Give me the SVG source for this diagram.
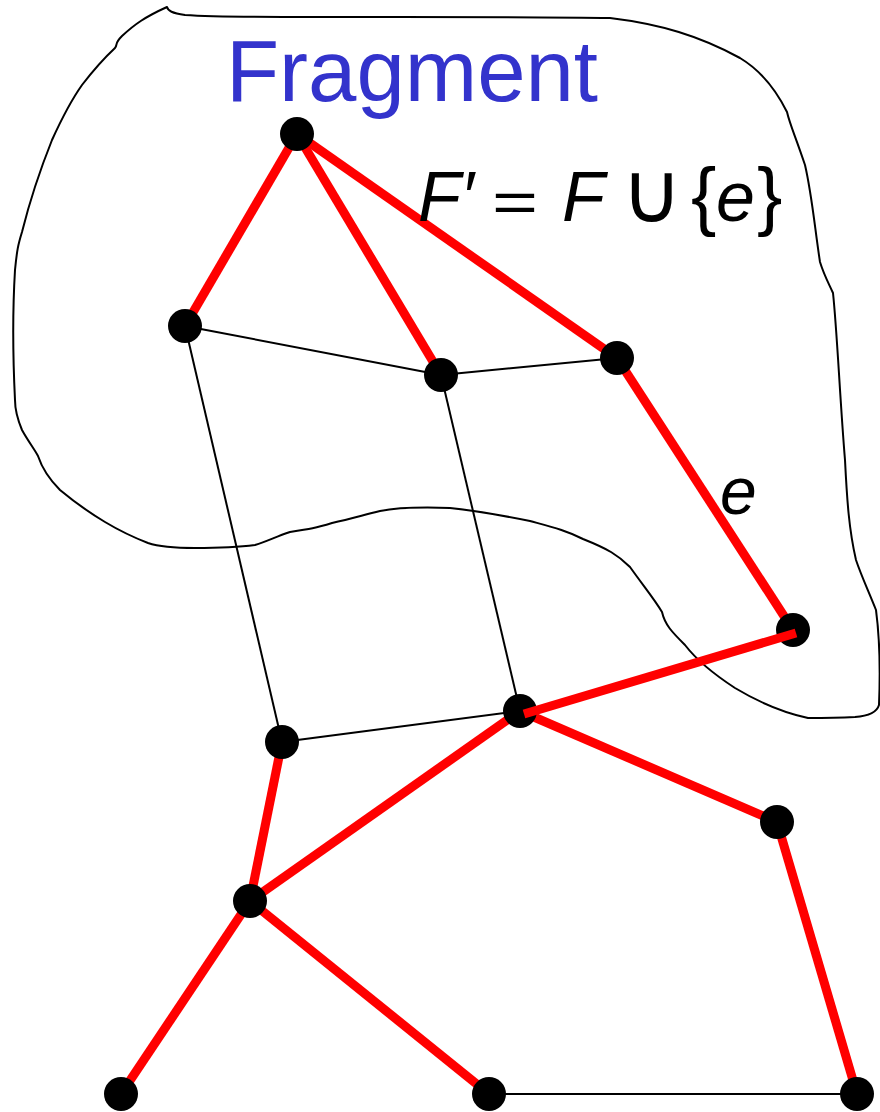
<svg xmlns="http://www.w3.org/2000/svg" width="880" height="1112" viewBox="0 0 880 1112">
<style>
.blob{fill:none;stroke:#000;stroke-width:2;stroke-linejoin:round}
.thin{stroke:#000;stroke-width:2}
.red{stroke:#ff0000;stroke-width:9}
.node{fill:#000}
.math{font-family:"Liberation Sans",Arial,sans-serif;fill:#000}
</style>
<rect width="880" height="1112" fill="#fff"/>
<path id="fragment-outline" class="blob" d="M167,7 C168,11 172,13 185,15 C230,18 300,17 400,17 C480,17 560,17 610,18 C660,24 700,36 740,58 C760,70 775,88 787,112 C790,125 795,135 805,165 C812,195 815,230 820,262 C824,275 828,282 833,293 C837,330 840,400 845,460 C847,500 849,530 856,560 C861,575 868,590 876,610 C880,640 880,680 879,705 C877,712 868,716 855,717 C835,718 820,718 808,718 C780,712 755,700 735,688 C712,673 695,658 685,645 C672,632 665,625 662,612 C655,600 645,588 630,567 C618,555 608,549 583,539 C565,530 552,527 530,521 C505,516 480,511 450,508 C420,507 395,508 380,511 C360,516 350,519 332,523 C316,528 310,529 290,532 C275,537 268,541 255,545 C240,547 220,548 195,548 C175,548 160,547 148,543 C130,536 120,531 105,522 C85,510 72,500 60,490 C48,478 42,468 38,456 C35,450 28,441 22,430 C17,418 15,410 15,400 C13,360 12,320 15,270 C17,250 18,245 22,232 C30,200 40,170 52,140 C62,118 70,102 82,85 C92,72 100,62 115,48 C118,44 114,44 122,36 C135,24 145,17 167,7 Z"/>
<g id="connectors">
<line class="red" x1="297" y1="134" x2="185" y2="326"/>
<line class="red" x1="297" y1="134" x2="441" y2="375"/>
<line class="red" x1="297" y1="134" x2="617" y2="358"/>
<line class="red" x1="617" y1="358" x2="793" y2="630"/>
<line class="red" x1="520" y1="711" x2="250" y2="901"/>
<line class="red" x1="520" y1="711" x2="777" y2="822"/>
<line class="red" x1="282" y1="742" x2="250" y2="901"/>
<line class="red" x1="250" y1="901" x2="121" y2="1094"/>
<line class="red" x1="250" y1="901" x2="489" y2="1094"/>
<line class="red" x1="777" y1="822" x2="857" y2="1094"/>
<line class="thin" x1="185" y1="326" x2="441" y2="375"/>
<line class="thin" x1="441" y1="375" x2="617" y2="358"/>
<line class="thin" x1="185" y1="326" x2="282" y2="742"/>
<line class="thin" x1="441" y1="375" x2="520" y2="711"/>
<line class="thin" x1="282" y1="742" x2="520" y2="711"/>
<line class="thin" x1="489" y1="1094" x2="857" y2="1094"/>
</g>
<g id="n-A"><circle class="node" cx="297" cy="134" r="17"/></g>
<g id="n-B"><circle class="node" cx="185" cy="326" r="17"/></g>
<g id="n-C"><circle class="node" cx="441" cy="375" r="17"/></g>
<g id="n-D"><circle class="node" cx="617" cy="358" r="17"/></g>
<g id="n-E"><circle class="node" cx="793" cy="630" r="17"/></g>
<g id="n-F"><circle class="node" cx="520" cy="711" r="17"/></g>
<g id="n-G"><circle class="node" cx="282" cy="742" r="17"/></g>
<g id="n-H"><circle class="node" cx="777" cy="822" r="17"/></g>
<g id="n-I"><circle class="node" cx="250" cy="901" r="17"/></g>
<g id="n-J"><circle class="node" cx="121" cy="1094" r="17"/></g>
<g id="n-K"><circle class="node" cx="489" cy="1094" r="17"/></g>
<g id="n-L"><circle class="node" cx="857" cy="1094" r="17"/></g>
<g id="edge-e"><line class="red" x1="524" y1="714" x2="796" y2="633"/></g>
<text id="title" x="226" y="101" font-family="'Liberation Sans',Arial,sans-serif" font-size="88" fill="#3333cc" textLength="372" lengthAdjust="spacingAndGlyphs">Fragment</text>
<text id="formula" class="math" font-size="70"><tspan x="418" y="221" font-style="italic">F′</tspan><tspan x="492" y="222" font-size="58" textLength="46" lengthAdjust="spacingAndGlyphs">=</tspan><tspan x="562" y="221" font-style="italic">F</tspan><tspan x="621" y="222" font-size="84">∪</tspan><tspan x="691" y="221" font-size="76">{</tspan><tspan x="716" y="221" font-style="italic">e</tspan><tspan x="757" y="221" font-size="76">}</tspan></text>
<text id="e-label" class="math" x="720" y="514" font-size="66" font-style="italic">e</text>
</svg>
